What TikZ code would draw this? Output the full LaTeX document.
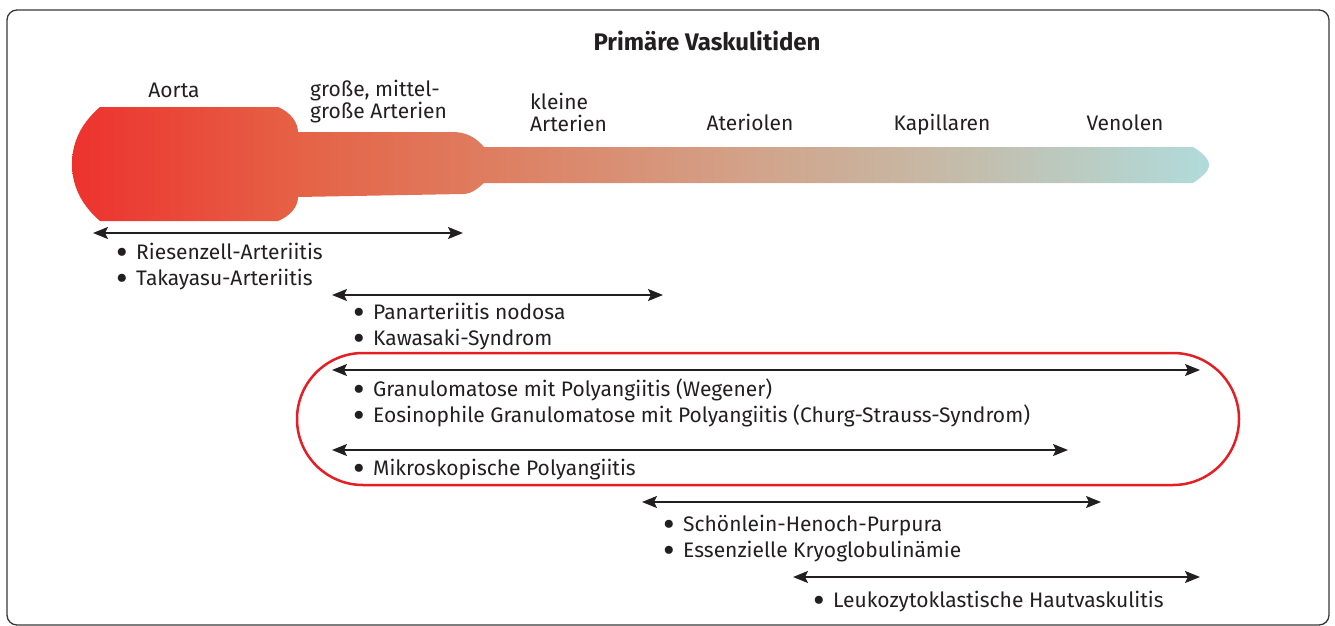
\documentclass[tikz,border=0pt]{standalone}
\usepackage{fontspec}
\setmainfont{Fira Sans}
\usetikzlibrary{arrows.meta}
\definecolor{textgray}{RGB}{35,31,32}
\definecolor{framegray}{RGB}{55,55,55}
\definecolor{boxred}{RGB}{228,30,36}
\definecolor{vesA}{RGB}{237,50,46}
\definecolor{vesB}{RGB}{229,98,70}
\definecolor{vesC}{RGB}{223,124,95}
\definecolor{vesD}{RGB}{210,163,138}
\definecolor{vesE}{RGB}{196,188,170}
\definecolor{vesF}{RGB}{176,219,219}
\pgfdeclarehorizontalshading{vessel}{100bp}{color(0bp)=(vesA); color(25bp)=(vesA); color(35bp)=(vesB); color(43bp)=(vesC); color(55bp)=(vesD); color(64bp)=(vesE); color(75bp)=(vesF); color(100bp)=(vesF)}
\tikzset{
  span/.style={{Stealth[length=15pt,width=12pt,inset=3pt]}-{Stealth[length=15pt,width=12pt,inset=3pt]},line width=2pt,textgray},
  entry/.style={anchor=base west,inner sep=0pt,text=textgray,text height=15pt,text depth=4pt},
  level/.style={anchor=base west,inner sep=0pt,text=textgray,align=left}
}
\newcommand{\listdot}{\makebox[20pt][l]{\smash{\raisebox{-0.25em}{\scalebox{1.7}{\textbullet}}}}}
\newcommand{\vspan}[4]{\coordinate (#1w) at (#2,#4); \coordinate (#1e) at (#3,#4); \draw[span] (#1w) -- (#1e);}
\newcommand{\disease}[4]{\node[entry] (#1) at (#2,#3) {\listdot#4};}

\begin{document}
\begin{tikzpicture}[x=1pt,y=-1pt,font=\fontsize{21}{22}\selectfont]
  \useasboundingbox (0,0) rectangle (1335,626);
  \draw[framegray,line width=1.3pt,rounded corners=10pt] (7,10) rectangle (1329,625);
  \node[anchor=base,font=\fontsize{24}{26}\selectfont\bfseries,text=textgray] (title) at (707,51) {Primäre Vaskulitiden};
  \shade[shading=vessel] (100,107) -- (278,107) .. controls (290,112) and (298,122) .. (298,132)
    -- (455,132) .. controls (470,133) and (478,140) .. (484,147) -- (1193,147)
    .. controls (1200,151) and (1209,158) .. (1209,165) .. controls (1209,172) and (1200,178) .. (1193,183)
    -- (484,183) .. controls (478,188) and (472,194) .. (463,194) -- (298,197)
    .. controls (298,207) and (290,216) .. (278,221) -- (100,221)
    .. controls (85,208) and (72,190) .. (72,164) .. controls (72,138) and (85,120) .. (100,107) -- cycle;
  \node[anchor=base,inner sep=0pt,text=textgray] (aorta) at (174,97) {Aorta};
  \node[level] (gross) at (310,118) {große, mittel-\\große Arterien};
  \node[level] (klein) at (530,131) {kleine\\Arterien};
  \node[anchor=base,inner sep=0pt,text=textgray] (arteriol) at (750,130) {Ateriolen};
  \node[anchor=base,inner sep=0pt,text=textgray] (kapill) at (942,130) {Kapillaren};
  \node[anchor=base,inner sep=0pt,text=textgray] (venol) at (1125,130) {Venolen};
  \draw[boxred,line width=2.5pt,rounded corners=66pt] (297,353) rectangle (1239,485);
  \vspan{riesen}{93}{463}{233}
  \disease{d1}{116}{259}{Riesenzell-Arteriitis}
  \disease{d2}{116}{285}{Takayasu-Arteriitis}
  \vspan{pan}{332}{663}{295}
  \disease{d3}{353}{319}{Panarteriitis nodosa}
  \disease{d4}{353}{345}{Kawasaki-Syndrom}
  \vspan{gran}{332}{1200}{370}
  \disease{d5}{353}{396}{Granulomatose mit Polyangiitis (Wegener)}
  \disease{d6}{353}{422}{Eosinophile Granulomatose mit Polyangiitis (Churg-Strauss-Syndrom)}
  \vspan{mikro}{332}{1068}{450}
  \disease{d7}{353}{475}{Mikroskopische Polyangiitis}
  \vspan{schoen}{642}{1101}{502}
  \disease{d8}{663}{531}{Schönlein-Henoch-Purpura}
  \disease{d9}{663}{557}{Essenzielle Kryoglobulinämie}
  \vspan{leuko}{793}{1200}{577}
  \disease{d10}{813}{607}{Leukozytoklastische Hautvaskulitis}
\end{tikzpicture}
\end{document}
